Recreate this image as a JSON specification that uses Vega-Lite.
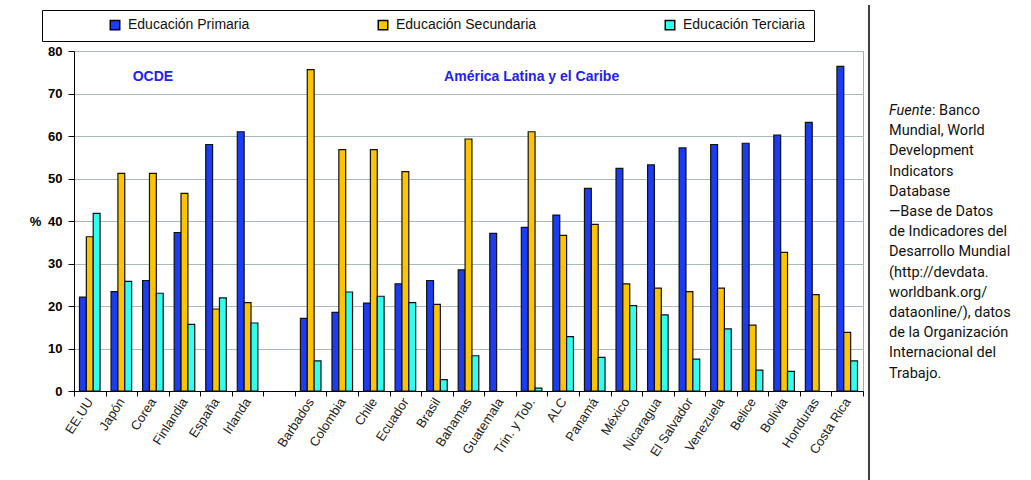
{
  "$schema": "https://vega.github.io/schema/vega-lite/v6.json",
  "background": "white",
  "padding": {"left": 28, "top": 4, "right": 0, "bottom": 0},
  "spacing": 4,
  "config": {"font": "Liberation Sans"},
  "datasets": {
    "edu": [
      {"country": "EE.UU", "level": "Educación Primaria", "value": 22.1},
      {"country": "EE.UU", "level": "Educación Secundaria", "value": 36.3},
      {"country": "EE.UU", "level": "Educación Terciaria", "value": 41.8},
      {"country": "Japón", "level": "Educación Primaria", "value": 23.4},
      {"country": "Japón", "level": "Educación Secundaria", "value": 51.2},
      {"country": "Japón", "level": "Educación Terciaria", "value": 25.8},
      {"country": "Corea", "level": "Educación Primaria", "value": 26.0},
      {"country": "Corea", "level": "Educación Secundaria", "value": 51.2},
      {"country": "Corea", "level": "Educación Terciaria", "value": 23.0},
      {"country": "Finlandia", "level": "Educación Primaria", "value": 37.3},
      {"country": "Finlandia", "level": "Educación Secundaria", "value": 46.5},
      {"country": "Finlandia", "level": "Educación Terciaria", "value": 15.7},
      {"country": "España", "level": "Educación Primaria", "value": 58.0},
      {"country": "España", "level": "Educación Secundaria", "value": 19.3},
      {"country": "España", "level": "Educación Terciaria", "value": 21.9},
      {"country": "Irlanda", "level": "Educación Primaria", "value": 61.0},
      {"country": "Irlanda", "level": "Educación Secundaria", "value": 20.8},
      {"country": "Irlanda", "level": "Educación Terciaria", "value": 16.0},
      {"country": "Barbados", "level": "Educación Primaria", "value": 17.1},
      {"country": "Barbados", "level": "Educación Secundaria", "value": 75.6},
      {"country": "Barbados", "level": "Educación Terciaria", "value": 7.1},
      {"country": "Colombia", "level": "Educación Primaria", "value": 18.5},
      {"country": "Colombia", "level": "Educación Secundaria", "value": 56.8},
      {"country": "Colombia", "level": "Educación Terciaria", "value": 23.3},
      {"country": "Chile", "level": "Educación Primaria", "value": 20.7},
      {"country": "Chile", "level": "Educación Secundaria", "value": 56.8},
      {"country": "Chile", "level": "Educación Terciaria", "value": 22.3},
      {"country": "Ecuador", "level": "Educación Primaria", "value": 25.2},
      {"country": "Ecuador", "level": "Educación Secundaria", "value": 51.6},
      {"country": "Ecuador", "level": "Educación Terciaria", "value": 20.8},
      {"country": "Brasil", "level": "Educación Primaria", "value": 26.0},
      {"country": "Brasil", "level": "Educación Secundaria", "value": 20.4},
      {"country": "Brasil", "level": "Educación Terciaria", "value": 2.7},
      {"country": "Bahamas", "level": "Educación Primaria", "value": 28.5},
      {"country": "Bahamas", "level": "Educación Secundaria", "value": 59.3},
      {"country": "Bahamas", "level": "Educación Terciaria", "value": 8.3},
      {"country": "Guatemala", "level": "Educación Primaria", "value": 37.1},
      {"country": "Trin. y Tob.", "level": "Educación Primaria", "value": 38.5},
      {"country": "Trin. y Tob.", "level": "Educación Secundaria", "value": 61.0},
      {"country": "Trin. y Tob.", "level": "Educación Terciaria", "value": 0.7},
      {"country": "ALC", "level": "Educación Primaria", "value": 41.4},
      {"country": "ALC", "level": "Educación Secundaria", "value": 36.6},
      {"country": "ALC", "level": "Educación Terciaria", "value": 12.8},
      {"country": "Panamá", "level": "Educación Primaria", "value": 47.7},
      {"country": "Panamá", "level": "Educación Secundaria", "value": 39.2},
      {"country": "Panamá", "level": "Educación Terciaria", "value": 7.9},
      {"country": "México", "level": "Educación Primaria", "value": 52.4},
      {"country": "México", "level": "Educación Secundaria", "value": 25.2},
      {"country": "México", "level": "Educación Terciaria", "value": 20.1},
      {"country": "Nicaragua", "level": "Educación Primaria", "value": 53.2},
      {"country": "Nicaragua", "level": "Educación Secundaria", "value": 24.2},
      {"country": "Nicaragua", "level": "Educación Terciaria", "value": 17.9},
      {"country": "El Salvador", "level": "Educación Primaria", "value": 57.2},
      {"country": "El Salvador", "level": "Educación Secundaria", "value": 23.4},
      {"country": "El Salvador", "level": "Educación Terciaria", "value": 7.5},
      {"country": "Venezuela", "level": "Educación Primaria", "value": 58.0},
      {"country": "Venezuela", "level": "Educación Secundaria", "value": 24.2},
      {"country": "Venezuela", "level": "Educación Terciaria", "value": 14.6},
      {"country": "Belice", "level": "Educación Primaria", "value": 58.3},
      {"country": "Belice", "level": "Educación Secundaria", "value": 15.5},
      {"country": "Belice", "level": "Educación Terciaria", "value": 4.9},
      {"country": "Bolivia", "level": "Educación Primaria", "value": 60.2},
      {"country": "Bolivia", "level": "Educación Secundaria", "value": 32.6},
      {"country": "Bolivia", "level": "Educación Terciaria", "value": 4.6},
      {"country": "Honduras", "level": "Educación Primaria", "value": 63.2},
      {"country": "Honduras", "level": "Educación Secundaria", "value": 22.7},
      {"country": "Costa Rica", "level": "Educación Primaria", "value": 76.4},
      {"country": "Costa Rica", "level": "Educación Secundaria", "value": 13.8},
      {"country": "Costa Rica", "level": "Educación Terciaria", "value": 7.1}
    ],
    "notes": [
      {"line": 1, "text": "Mundial, World"},
      {"line": 2, "text": "Development"},
      {"line": 3, "text": "Indicators"},
      {"line": 4, "text": "Database"},
      {"line": 5, "text": "—Base de Datos"},
      {"line": 6, "text": "de Indicadores del"},
      {"line": 7, "text": "Desarrollo Mundial"},
      {"line": 8, "text": "(http://devdata."},
      {"line": 9, "text": "worldbank.org/"},
      {"line": 10, "text": "dataonline/), datos"},
      {"line": 11, "text": "de la Organización"},
      {"line": 12, "text": "Internacional del"},
      {"line": 13, "text": "Trabajo."}
    ]
  },
  "hconcat": [
    {
      "width": 789,
      "height": 340,
      "view": {"stroke": "#a0b0b0"},
      "layer": [
        {
          "data": {"name": "edu"},
          "mark": {"type": "bar", "stroke": "#111111", "strokeWidth": 1.2},
          "encoding": {
            "x": {
              "field": "country",
              "type": "nominal",
              "sort": null,
              "scale": {
                "domain": ["EE.UU", "Japón", "Corea", "Finlandia", "España", "Irlanda", " ", "Barbados", "Colombia", "Chile", "Ecuador", "Brasil", "Bahamas", "Guatemala", "Trin. y Tob.", "ALC", "Panamá", "México", "Nicaragua", "El Salvador", "Venezuela", "Belice", "Bolivia", "Honduras", "Costa Rica"],
                "paddingInner": 0,
                "paddingOuter": 0
              },
              "axis": {
                "title": null,
                "labelAngle": -57,
                "labelFontSize": 13,
                "labelColor": "#222222",
                "tickBand": "extent",
                "tickColor": "#000000",
                "tickSize": 5,
                "domainColor": "#000000",
                "labelPadding": 3,
                "grid": false
              }
            },
            "xOffset": {
              "field": "level",
              "type": "nominal",
              "scale": {"domain": ["Educación Primaria", "Educación Secundaria", "Educación Terciaria"], "paddingInner": 0, "paddingOuter": 0.8}
            },
            "y": {
              "field": "value",
              "type": "quantitative",
              "scale": {"domain": [0, 80]},
              "axis": {
                "title": "%",
                "titleAngle": 0,
                "titleFontWeight": "bold",
                "titleFontSize": 13,
                "titleX": -39,
                "titleY": 170,
                "titleAlign": "center",
                "titleBaseline": "middle",
                "values": [0, 10, 20, 30, 40, 50, 60, 70, 80],
                "labelFontWeight": "bold",
                "labelFontSize": 13,
                "labelColor": "#000000",
                "tickColor": "#000000",
                "tickSize": 6,
                "labelPadding": 6,
                "domainColor": "#000000",
                "gridColor": "#a8baba"
              }
            },
            "color": {
              "field": "level",
              "type": "nominal",
              "scale": {"domain": ["Educación Primaria", "Educación Secundaria", "Educación Terciaria"], "range": ["#1c3cf2", "#ffc400", "#33fff0"]},
              "legend": {
                "orient": "none",
                "legendX": -32,
                "legendY": -41,
                "direction": "horizontal",
                "columns": 3,
                "title": " ",
                "titleOrient": "left",
                "titlePadding": 58,
                "padding": 8,
                "strokeColor": "#000000",
                "fillColor": "white",
                "symbolType": "square",
                "symbolSize": 90,
                "symbolStrokeColor": "#000000",
                "symbolStrokeWidth": 1.5,
                "symbolOpacity": 1,
                "labelFontSize": 14,
                "labelColor": "#111111",
                "labelOffset": 6,
                "columnPadding": 125
              }
            }
          }
        },
        {
          "data": {"values": [{"country": "Corea", "value": 74, "label": "OCDE"}, {"country": "Trin. y Tob.", "value": 74, "label": "América Latina y el Caribe"}]},
          "mark": {"type": "text", "fontWeight": "bold", "fontSize": 14, "color": "#2222ee"},
          "encoding": {
            "x": {"field": "country", "type": "nominal"},
            "y": {"field": "value", "type": "quantitative"},
            "text": {"field": "label"}
          }
        }
      ]
    },
    {
      "width": 140,
      "height": 340,
      "view": {"stroke": null},
      "layer": [
        {
          "data": {"values": [{}]},
          "mark": {"type": "rule", "color": "#000000", "strokeWidth": 1.5},
          "encoding": {
            "x": {"datum": 0, "type": "quantitative", "scale": {"domain": [0, 140], "nice": false, "zero": false}, "axis": null},
            "y": {"datum": -5.25, "type": "quantitative", "scale": {"domain": [-2.97, 13.86], "nice": false, "zero": false, "reverse": true}, "axis": null},
            "y2": {"datum": 18.5}
          }
        },
        {
          "data": {"name": "notes"},
          "mark": {"type": "text", "align": "left", "baseline": "middle", "font": "Roboto", "fontSize": 14.5, "color": "#111111"},
          "encoding": {
            "x": {"datum": 20, "type": "quantitative"},
            "y": {"field": "line", "type": "quantitative"},
            "text": {"field": "text"}
          }
        },
        {
          "data": {"values": [{"line": 0, "text": "Fuente"}]},
          "mark": {"type": "text", "align": "left", "baseline": "middle", "font": "Roboto", "fontSize": 14.5, "fontStyle": "italic", "color": "#111111"},
          "encoding": {
            "x": {"datum": 20, "type": "quantitative"},
            "y": {"field": "line", "type": "quantitative"},
            "text": {"field": "text"}
          }
        },
        {
          "data": {"values": [{"line": 0, "text": ": Banco"}]},
          "mark": {"type": "text", "align": "left", "baseline": "middle", "font": "Roboto", "fontSize": 14.5, "color": "#111111", "dx": 43},
          "encoding": {
            "x": {"datum": 20, "type": "quantitative"},
            "y": {"field": "line", "type": "quantitative"},
            "text": {"field": "text"}
          }
        }
      ]
    }
  ]
}
